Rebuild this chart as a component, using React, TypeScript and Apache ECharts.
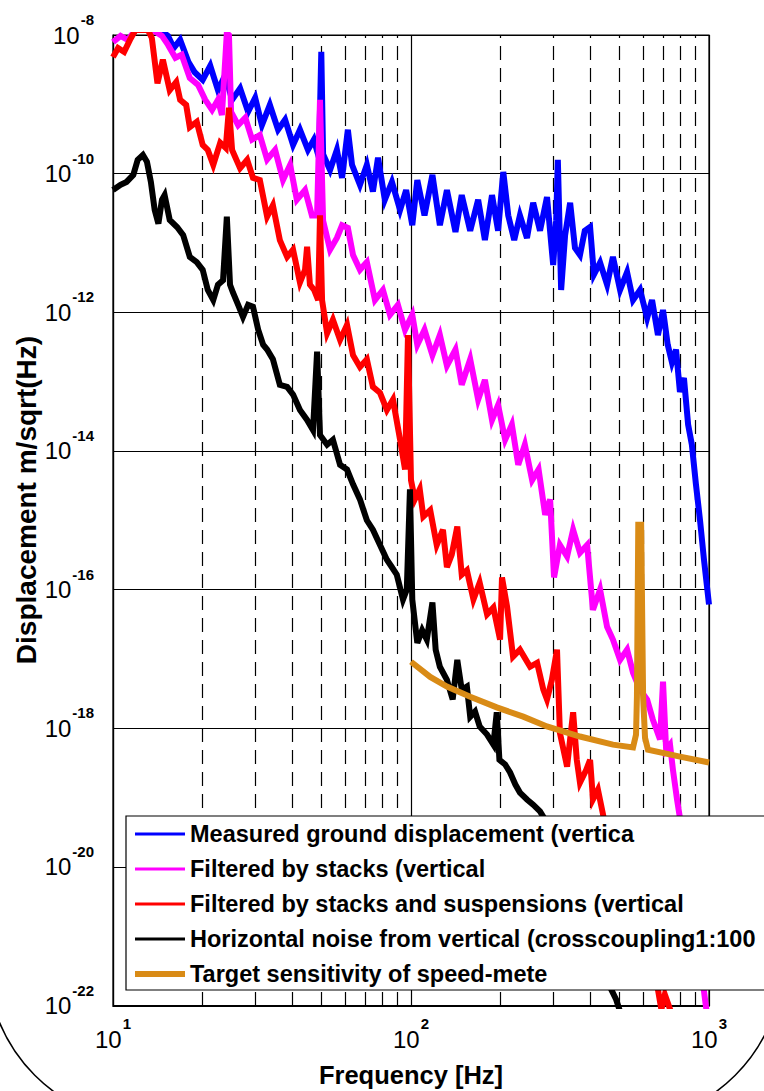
import React, { useEffect, useRef } from 'react';
import * as echarts from 'echarts';

const FONT = '"Liberation Sans", Arial, Helvetica, sans-serif';

const seriesNames = [
  'Measured ground displacement (vertica',
  'Filtered by stacks (vertical',
  'Filtered by stacks and suspensions (vertical',
  'Horizontal noise from vertical (crosscoupling1:100',
  'Target sensitivity of speed-mete',
];
const seriesColors = ['#0000ff', '#ff00ff', '#ff0000', '#000000', '#d98b16'];
const xAxisTitle = 'Frequency [Hz]';
const yAxisTitle = 'Displacement m/sqrt(Hz)';

// Frequency [Hz] and displacement [m/sqrt(Hz)]
const blueFreq = [10, 12.3, 14.4, 15.3, 16.0, 16.8, 17.9, 18.8, 20.0, 21.2, 22.5, 23.8, 25.1, 26.7, 28.4, 30.0, 31.6, 33.6, 35.8, 37.8, 40.2, 42.4, 45.1, 47.2, 49.1, 50.0, 50.7, 53.5, 56.4, 58.7, 61.4, 63.4, 67.4, 71.1, 74.5, 77.5, 81.7, 86.3, 91.9, 96.3, 101, 105, 111, 118, 125, 132, 141, 148, 158, 168, 177, 187, 196, 204, 212, 222, 232, 245, 257, 271, 286, 300, 307, 311, 319, 329, 342, 355, 369, 383, 399, 411, 431, 455, 476, 503, 531, 556, 587, 620, 644, 674, 701, 727, 751, 775, 799, 824, 851, 876, 904, 933, 962, 1000];
const blueAmp = [1.26e-8, 1.26e-8, 1.18e-8, 9.7e-9, 6.5e-9, 8.5e-9, 4.1e-9, 2.9e-9, 2.25e-9, 3.6e-9, 1.6e-9, 2.65e-9, 1.16e-9, 1.7e-9, 7.8e-10, 1.24e-9, 5.0e-10, 9.8e-10, 4.3e-10, 6.0e-10, 2.6e-10, 4.3e-10, 2.2e-10, 3.1e-10, 1.7e-10, 5.7e-9, 1.9e-10, 1.13e-10, 2.2e-10, 8.7e-11, 4.3e-10, 1.34e-10, 6.9e-11, 1.34e-10, 5.5e-11, 1.7e-10, 4.2e-11, 7.6e-11, 3.0e-11, 5.8e-11, 1.8e-11, 8.1e-11, 2.5e-11, 9.6e-11, 1.8e-11, 5.8e-11, 1.44e-11, 4.9e-11, 1.5e-11, 4.2e-11, 1.1e-11, 4.9e-11, 1.5e-11, 1.06e-10, 2.5e-11, 1.1e-11, 2.5e-11, 1.18e-11, 3.8e-11, 1.5e-11, 4.6e-11, 4.8e-12, 2.1e-11, 1.58e-10, 2.1e-12, 1.3e-11, 3.8e-11, 8.5e-12, 6.7e-12, 1.5e-11, 1.7e-11, 3.5e-12, 5.2e-12, 2.5e-12, 6.3e-12, 2.1e-12, 3.8e-12, 1.5e-12, 2.1e-12, 8.3e-13, 1.5e-12, 4.7e-13, 1.08e-12, 3.4e-13, 1.9e-13, 2.9e-13, 7.1e-14, 1.13e-13, 2.4e-14, 1.23e-14, 3.3e-15, 1.0e-15, 2.7e-16, 6.1e-17];

const magentaFreq = [10, 10.6, 11.2, 11.9, 13.3, 14.6, 15.3, 16.2, 17.0, 18.1, 19.3, 20.4, 21.5, 22.5, 23.2, 24.1, 24.5, 24.9, 26.3, 27.8, 29.3, 31.1, 32.9, 35.0, 37.2, 39.3, 41.4, 44.1, 46.5, 48.4, 49.5, 50.7, 53.5, 56.4, 58.7, 61.4, 63.9, 67.4, 71.1, 75.7, 80.5, 85.0, 90.4, 95.5, 101, 105, 111, 118, 125, 132, 141, 148, 158, 168, 177, 187, 196, 207, 218, 229, 241, 255, 268, 282, 293, 302, 316, 334, 350, 369, 390, 408, 431, 455, 476, 503, 531, 556, 587, 620, 648, 685, 701, 718, 740, 757, 781, 810, 851, 892, 933, 970, 985];
const magentaAmp = [7.9e-9, 9.7e-9, 8.5e-9, 1.18e-8, 1.26e-8, 9.7e-9, 7.2e-9, 4.7e-9, 5.2e-9, 2.4e-9, 1.9e-9, 1.16e-9, 8.3e-10, 1.16e-9, 7.0e-10, 1.07e-8, 1.0e-8, 7.8e-10, 5.0e-10, 6.4e-10, 3.1e-10, 3.6e-10, 1.6e-10, 2.2e-10, 8.1e-11, 1.34e-10, 4.2e-11, 5.8e-11, 2.5e-11, 2.5e-11, 1.16e-9, 2.1e-11, 8.0e-12, 1.18e-11, 1.8e-11, 1.65e-11, 6.7e-12, 4.1e-12, 5.3e-12, 1.5e-12, 2.1e-12, 9.2e-13, 1.28e-12, 5.6e-13, 9.2e-13, 3.4e-13, 5.6e-13, 2.4e-13, 4.7e-13, 1.7e-13, 2.9e-13, 9.0e-14, 2.1e-13, 5.5e-14, 1.06e-13, 2.8e-14, 4.6e-14, 1.45e-14, 2.4e-14, 6.3e-15, 1.23e-14, 3.8e-15, 5.4e-15, 1.2e-15, 2.0e-15, 1.5e-16, 4.4e-16, 3.0e-16, 7.3e-16, 3.4e-16, 4.4e-16, 5.1e-17, 1.0e-16, 2.9e-17, 1.9e-17, 9.7e-18, 1.36e-17, 6.3e-18, 3.6e-18, 2.6e-18, 1.33e-18, 6.9e-19, 4.7e-18, 4.9e-19, 5.8e-19, 2.5e-19, 9.4e-20, 3.5e-20, 9.1e-21, 1.7e-21, 4.6e-22, 1.22e-22, 7.4e-23];

const redFreq = [10, 10.4, 10.9, 11.4, 11.9, 13.1, 13.5, 14.1, 14.7, 15.5, 16.3, 16.8, 17.6, 18.1, 19.1, 20.0, 20.8, 21.7, 22.9, 23.9, 24.5, 25.1, 26.7, 28.2, 29.5, 31.1, 32.9, 34.4, 36.3, 38.4, 40.2, 42.4, 44.1, 44.8, 45.8, 47.3, 48.8, 49.5, 50.3, 52.3, 54.7, 57.8, 61.0, 63.9, 67.4, 71.1, 74.5, 78.7, 83.0, 87.0, 91.9, 95.5, 97.7, 100, 103, 107, 110, 116, 122, 128, 132, 137, 143, 148, 154, 162, 170, 180, 189, 199, 202, 210, 220, 232, 251, 265, 278, 286, 297, 309, 316, 334, 350, 360, 369, 387, 399, 408, 424, 441, 465, 503, 543, 587, 634, 674, 692, 711, 751];
const redAmp = [4.8e-9, 6.5e-9, 5.7e-9, 8.5e-9, 1.18e-8, 1.18e-8, 9.05e-9, 2.0e-9, 4.4e-9, 1.6e-9, 2.1e-9, 1.16e-9, 9.8e-10, 4.7e-10, 5.6e-10, 2.6e-10, 2.2e-10, 1.34e-10, 2.8e-10, 2.35e-10, 8.9e-10, 2.2e-10, 1.2e-10, 1.58e-10, 8.7e-11, 8.1e-11, 2.4e-11, 3.5e-11, 1.1e-11, 6.3e-12, 8.0e-12, 2.7e-12, 4.1e-12, 8.8e-12, 2.5e-12, 2.1e-12, 1.5e-12, 2.5e-11, 1.5e-12, 5.0e-13, 7.8e-13, 4.0e-13, 6.6e-13, 2.4e-13, 1.63e-13, 2.1e-13, 8.4e-14, 6.9e-14, 3.9e-14, 5.5e-14, 1.45e-14, 5.4e-15, 4.7e-13, 3.8e-15, 2.0e-15, 2.8e-15, 1.13e-15, 1.4e-15, 4.4e-16, 7.3e-16, 2.1e-16, 3.2e-16, 8.1e-16, 1.64e-16, 1.9e-16, 7.2e-17, 1.26e-16, 4.4e-17, 5.5e-17, 1.9e-17, 1.5e-16, 5.7e-17, 1.08e-17, 1.36e-17, 7.7e-18, 8.8e-18, 3.6e-18, 2.6e-18, 5.0e-18, 1.36e-17, 8.6e-19, 2.8e-19, 1.7e-18, 3.5e-19, 1.64e-19, 2.5e-19, 3.5e-19, 9.4e-20, 1.3e-19, 5.7e-20, 1.78e-20, 6.6e-21, 2.4e-21, 9.0e-22, 3.3e-22, 1.7e-22, 8.8e-23, 1.44e-22, 7.4e-23];

const blackFreq = [10, 10.6, 11.1, 11.7, 12.1, 12.6, 13.0, 13.4, 13.8, 14.2, 14.6, 14.9, 15.5, 16.4, 17.2, 18.1, 19.1, 20.0, 20.8, 21.7, 22.5, 23.4, 24.1, 24.7, 25.3, 26.3, 27.3, 28.4, 29.5, 30.7, 31.9, 32.9, 34.4, 36.3, 38.4, 40.2, 42.4, 44.8, 46.9, 48.4, 49.5, 52.3, 54.7, 57.8, 61.0, 63.9, 67.4, 71.1, 74.5, 78.7, 83.0, 86.3, 89.6, 94.0, 96.8, 99.2, 101, 105, 109, 113, 118, 121, 125, 132, 138, 143, 148, 154, 158, 164, 170, 180, 189, 194, 198, 207, 215, 224, 232, 245, 257, 271, 288, 316, 355, 399, 442, 470, 488, 503];
const blackAmp = [5.8e-11, 6.9e-11, 7.6e-11, 9.6e-11, 1.58e-10, 1.86e-10, 1.48e-10, 7.6e-11, 3.0e-11, 1.9e-11, 4.2e-11, 4.9e-11, 2.15e-11, 1.7e-11, 1.3e-11, 6.3e-12, 5.3e-12, 4.1e-12, 2.1e-12, 1.5e-12, 2.5e-12, 2.9e-12, 2.4e-11, 2.5e-12, 1.9e-12, 1.28e-12, 8.6e-13, 1.28e-12, 1.2e-12, 5.6e-13, 3.4e-13, 2.9e-13, 2.1e-13, 9.0e-14, 8.4e-14, 6.5e-14, 3.9e-14, 2.8e-14, 2.0e-14, 2.7e-13, 1.7e-14, 1.23e-14, 1.45e-14, 6.3e-15, 5.4e-15, 3.3e-15, 2.0e-15, 1.0e-15, 7.3e-16, 4.4e-16, 2.7e-16, 2.1e-16, 1.64e-16, 7.2e-17, 1.0e-16, 2.8e-15, 7.2e-17, 1.7e-17, 2.6e-17, 1.9e-17, 6.5e-17, 1.36e-17, 7.7e-18, 5.0e-18, 2.6e-18, 9.7e-18, 3.6e-18, 4.0e-18, 1.47e-18, 1.74e-18, 1.06e-18, 8.1e-19, 5.8e-19, 1.7e-18, 3.5e-19, 3.0e-19, 2.3e-19, 1.54e-19, 1.18e-19, 9.4e-20, 7.9e-20, 6.3e-20, 4.1e-20, 1.78e-20, 4.7e-21, 1.25e-21, 3.9e-22, 1.7e-22, 1.22e-22, 8.2e-23];

const orangeFreq = [100, 116, 132, 158, 194, 238, 286, 369, 476, 556, 569, 573, 579, 592, 601, 610, 624, 799, 1000];
const orangeAmp = [9.1e-18, 5.5e-18, 4.0e-18, 2.85e-18, 2.0e-18, 1.47e-18, 1.06e-18, 7.6e-19, 5.8e-19, 5.3e-19, 8.1e-19, 2.85e-18, 8.6e-16, 8.6e-16, 2.85e-18, 7.3e-19, 4.9e-19, 3.9e-19, 3.2e-19];

const minorGridFreqs = [20, 30, 40, 50, 60, 70, 80, 90, 200, 300, 400, 500, 600, 700, 800, 900];

const seriesFreqs = [blueFreq, magentaFreq, redFreq, blackFreq, orangeFreq];
const seriesAmps = [blueAmp, magentaAmp, redAmp, blackAmp, orangeAmp];
const seriesWidths = [6, 6, 6, 6, 6];

export default function App() {
  const ref = useRef<HTMLDivElement>(null);

  useEffect(() => {
    if (!ref.current) return;
    const chart = echarts.init(ref.current, null, { renderer: 'svg' });

    const powLabel = (v: number) => {
      const e = Math.round(Math.log10(v));
      return `{b|10}{s|${e}}`;
    };
    const rich = {
      b: { fontSize: 24, lineHeight: 46, fontFamily: FONT, color: '#000' },
      s: { fontSize: 15, fontWeight: 'bold', lineHeight: 15, verticalAlign: 'top', fontFamily: FONT, color: '#000', padding: [0, 0, 0, 1] },
    };

    const curveSeries = seriesNames.map((name, i) => ({
      name,
      type: 'line',
      data: seriesFreqs[i].map((f, k) => [f, seriesAmps[i][k]]),
      showSymbol: false,
      symbol: 'none',
      color: seriesColors[i],
      lineStyle: { color: seriesColors[i], width: seriesWidths[i], join: 'miter' },
      silent: true,
      z: 3 + i,
      clip: true,
      emphasis: { disabled: true },
    }));

    const gridSeries = {
      name: 'minor-grid',
      type: 'line',
      data: [],
      silent: true,
      z: 1,
      markLine: {
        silent: true,
        z: 1,
        symbol: ['none', 'none'],
        label: { show: false },
        lineStyle: { color: '#000', type: [14, 8], width: 1.2 },
        emphasis: { disabled: true },
        data: minorGridFreqs.map((f) => ({ xAxis: f })),
      },
    };

    chart.setOption({
      animation: false,
      backgroundColor: '#fff',
      textStyle: { fontFamily: FONT },
      grid: {
        left: 113, right: 55, top: 35, bottom: 85,
        containLabel: false,
        outerBoundsMode: 'none',
        show: true, borderColor: '#000', borderWidth: 1.2, backgroundColor: 'transparent',
      },
      xAxis: {
        type: 'log',
        logBase: 10,
        min: 10,
        max: 1000,
        name: xAxisTitle,
        nameLocation: 'middle',
        nameGap: 56,
        nameMoveOverlap: false,
        nameTextStyle: { fontSize: 25.5, fontWeight: 'bold', color: '#000', fontFamily: FONT },
        axisLine: { show: true, lineStyle: { color: '#000', width: 1.2 } },
        axisTick: { show: true, inside: true, length: 8, lineStyle: { color: '#000' } },
        axisLabel: { formatter: powLabel, rich, margin: 10, showMinLabel: true, showMaxLabel: true },
        splitLine: { show: true, lineStyle: { color: '#000', width: 1.2 } },
      },
      yAxis: {
        type: 'log',
        logBase: 100,
        min: 0.985e-22,
        max: 1e-8,
        splitNumber: 7,
        axisLine: { show: true, lineStyle: { color: '#000', width: 1.2 } },
        axisTick: { show: true, inside: true, length: 8, lineStyle: { color: '#000' } },
        axisLabel: { formatter: powLabel, rich, margin: 19, showMinLabel: false, showMaxLabel: true },
        splitLine: { show: true, lineStyle: { color: '#000', width: 1.2 } },
      },
      legend: {
        orient: 'vertical',
        left: 126,
        top: 816,
        z: 20,
        itemWidth: 50,
        itemHeight: 20,
        itemGap: 11,
        padding: [6, 40, 4, 9],
        backgroundColor: '#fff',
        borderColor: '#000',
        borderWidth: 1.2,
        selectedMode: false,
        textStyle: { fontFamily: FONT, fontWeight: 'bold', fontSize: 23.5, color: '#000' },
        data: seriesNames.map((name, i) => ({
          name,
          icon: i === 4 ? 'path://M0,0H50V6H0Z' : 'path://M0,0H50V3H0Z',
          itemStyle: { color: seriesColors[i], borderWidth: 0 },
        })),
      },
      graphic: [
        {
          type: 'text',
          silent: true,
          x: 26,
          y: 500,
          rotation: Math.PI / 2,
          style: {
            text: yAxisTitle,
            fontSize: 28,
            fontWeight: 'bold',
            fontFamily: FONT,
            fill: '#000',
            align: 'center',
            verticalAlign: 'middle',
            textAlign: 'center',
            textVerticalAlign: 'middle',
          },
        },
        {
          type: 'rect',
          silent: true,
          z: 100,
          shape: { x: -13, y: -600, width: 796, height: 1723, r: 163 },
          style: { fill: 'none', stroke: '#000', lineWidth: 1.5 },
        },
      ],
      series: [gridSeries, ...curveSeries],
    });

    return () => {
      chart.dispose();
    };
  }, []);

  return (
    <div
      ref={ref}
      style={{ position: 'absolute', left: 0, top: 0, width: 764, height: 1091, background: '#fff' }}
    />
  );
}
